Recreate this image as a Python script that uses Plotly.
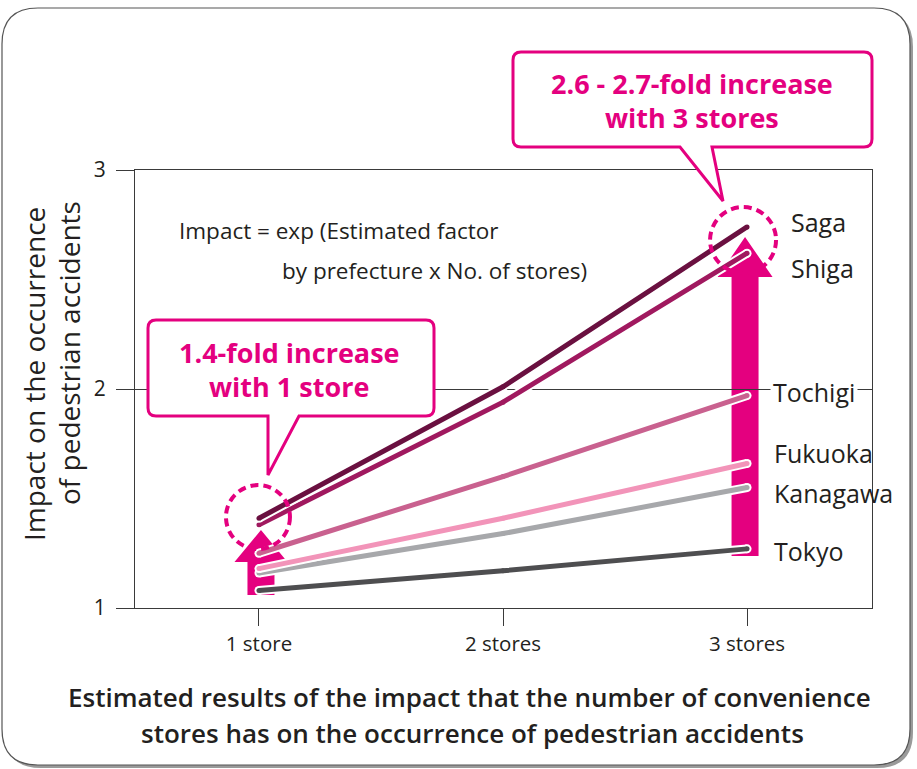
import plotly.graph_objects as go

# ---- data -------------------------------------------------------------
stores = [1, 2, 3]
store_labels = ["1 store", "2 stores", "3 stores"]

prefectures = ["Tokyo", "Kanagawa", "Fukuoka", "Tochigi", "Shiga", "Saga"]
impact = {
    "Tokyo":    [1.08, 1.17, 1.27],
    "Kanagawa": [1.16, 1.34, 1.55],
    "Fukuoka":  [1.18, 1.41, 1.66],
    "Tochigi":  [1.25, 1.60, 1.97],
    "Shiga":    [1.38, 1.94, 2.62],
    "Saga":     [1.41, 2.01, 2.74],
}
colors = {
    "Tokyo":    "#4e4e50",
    "Kanagawa": "#a7a8ab",
    "Fukuoka":  "#f294b9",
    "Tochigi":  "#c9618f",
    "Shiga":    "#a0195f",
    "Saga":     "#6a1040",
}
y_ticks = [1, 2, 3]

# ---- page geometry ----------------------------------------------------
W, H = 917, 769
L, R, T, B = 135, 872, 170, 608          # plot area in pixels
PW, PH = R - L, B - T

MAG = "#e4007f"
INK = "#231f20"
FONT = "Open Sans"


def fx(px):
    return (px - L) / PW


def fy(py):
    return (B - py) / PH


def rounded_box(x0, y0, x1, y1, r, pointer=None):
    """Rounded rectangle path (paper coords) with optional bottom pointer."""
    p = [f"M{fx(x0 + r)},{fy(y0)}", f"L{fx(x1 - r)},{fy(y0)}",
         f"Q{fx(x1)},{fy(y0)} {fx(x1)},{fy(y0 + r)}",
         f"L{fx(x1)},{fy(y1 - r)}",
         f"Q{fx(x1)},{fy(y1)} {fx(x1 - r)},{fy(y1)}"]
    if pointer:
        (bl, br, tx, ty) = pointer
        p += [f"L{fx(br)},{fy(y1)}", f"L{fx(tx)},{fy(ty)}", f"L{fx(bl)},{fy(y1)}"]
    p += [f"L{fx(x0 + r)},{fy(y1)}",
          f"Q{fx(x0)},{fy(y1)} {fx(x0)},{fy(y1 - r)}",
          f"L{fx(x0)},{fy(y0 + r)}",
          f"Q{fx(x0)},{fy(y0)} {fx(x0 + r)},{fy(y0)}", "Z"]
    return " ".join(p)


fig = go.Figure()

# lines with a white casing and rounded ends
for name in prefectures:
    fig.add_trace(go.Scatter(
        x=stores, y=impact[name], mode="lines+markers",
        line=dict(color="white", width=9),
        marker=dict(color="white", size=9, line=dict(width=0)),
        hoverinfo="skip", showlegend=False, cliponaxis=False))
    fig.add_trace(go.Scatter(
        x=stores, y=impact[name], mode="lines+markers", name=name,
        line=dict(color=colors[name], width=5),
        marker=dict(color=colors[name], size=5, line=dict(width=0)),
        showlegend=False, cliponaxis=False))

shapes = []

# outer frame with a soft shadow
shapes.append(dict(type="path", xref="paper", yref="paper", layer="below",
                   path=rounded_box(5, 11, 913, 768, 36),
                   fillcolor="#9a9a9a", line=dict(width=0)))
shapes.append(dict(type="path", xref="paper", yref="paper", layer="below",
                   path=rounded_box(2, 8, 910, 765, 36),
                   fillcolor="white", line=dict(color="#555555", width=1.2)))


def up_arrow(xa, ya, head_w, head_h, shaft_w, shaft_len, dx=0):
    hw, sw = head_w / 2, shaft_w / 2
    pts = [(dx, 0), (dx + hw, -head_h), (dx + sw, -head_h),
           (dx + sw, -shaft_len), (dx - sw, -shaft_len),
           (dx - sw, -head_h), (dx - hw, -head_h)]
    path = "M" + " L".join(f"{x},{y}" for x, y in pts) + " Z"
    return dict(type="path", xref="x", yref="y", layer="below",
                xsizemode="pixel", ysizemode="pixel", xanchor=xa, yanchor=ya,
                path=path, fillcolor=MAG, line=dict(width=0))


# magenta arrows showing the spread at 1 and 3 stores
shapes.append(up_arrow(1, 1.356, 53, 32, 27, 65, dx=2))
shapes.append(up_arrow(3, 2.694, 55, 40, 27, 319, dx=-2))

# dashed highlight circles
for (xa, ya, rad, dx) in [(1, 1.415, 32, -1), (3, 2.68, 33, -4)]:
    shapes.append(dict(type="circle", xref="x", yref="y", layer="above",
                       xsizemode="pixel", ysizemode="pixel",
                       xanchor=xa, yanchor=ya,
                       x0=dx - rad, x1=dx + rad, y0=-rad, y1=rad,
                       line=dict(color=MAG, width=4, dash="8px,5px")))

# callout boxes
shapes.append(dict(type="path", xref="paper", yref="paper", layer="above",
                   path=rounded_box(148, 320, 434, 416, 8, pointer=(268, 299, 268, 475)),
                   fillcolor="white", line=dict(color=MAG, width=3)))
shapes.append(dict(type="path", xref="paper", yref="paper", layer="above",
                   path=rounded_box(513, 52, 872, 147, 8, pointer=(680, 712, 723, 201)),
                   fillcolor="white", line=dict(color=MAG, width=3)))

ann = []


def text(px, py, s, size, color=INK, anchor="center", weight=400, angle=0, **kw):
    ann.append(dict(x=fx(px), y=fy(py), xref="paper", yref="paper", text=s,
                    showarrow=False, xanchor=anchor, yanchor="middle",
                    textangle=angle,
                    font=dict(family=FONT, size=size, color=color, weight=weight),
                    **kw))


# series labels
label_pos = {
    "Saga": (789, 222), "Shiga": (789, 268), "Tochigi": (770, 392),
    "Fukuoka": (772, 453), "Kanagawa": (772, 493), "Tokyo": (772, 551),
}
for name, (px, py) in label_pos.items():
    extra = dict(bgcolor="white", borderpad=2) if name == "Tochigi" else {}
    text(px, py, name, 25, anchor="left", **extra)

# formula note
text(177, 230, "Impact = exp (Estimated factor", 22.5, anchor="left")
text(280, 270, "by prefecture x No. of stores)", 22.5, anchor="left")

# callout texts
text(289, 352, "1.4-fold increase", 27, color=MAG, weight=700)
text(289, 386, "with 1 store", 27, color=MAG, weight=700)
text(692, 83, "2.6 - 2.7-fold increase", 27, color=MAG, weight=700)
text(692, 117, "with 3 stores", 27, color=MAG, weight=700)

# y-axis title
text(34, 374, "Impact on the occurrence", 28, angle=-90)
text(69, 353, "of pedestrian accidents", 28, angle=-90)

# caption
text(469, 697, "Estimated results of the impact that the number of convenience",
     26, weight=600)
text(472, 733, "stores has on the occurrence of pedestrian accidents", 26, weight=600)

fig.update_layout(
    width=W, height=H,
    margin=dict(l=L, r=W - R, t=T, b=H - B),
    paper_bgcolor="white", plot_bgcolor="rgba(0,0,0,0)",
    shapes=shapes, annotations=ann, showlegend=False,
    font=dict(family=FONT, color=INK),
    xaxis=dict(range=[0.492, 3.512], tickvals=stores, ticktext=store_labels,
               showgrid=False, zeroline=False, showline=True, mirror=True,
               linecolor="#3a3a3a", linewidth=1.2,
               ticks="outside", ticklen=17, tickwidth=1, tickcolor="#3a3a3a",
               ticklabelstandoff=0,
               tickfont=dict(family=FONT, size=20.5, color=INK), fixedrange=True),
    yaxis=dict(range=[1, 3], tickvals=y_ticks, showgrid=True,
               gridcolor="#3a3a3a", gridwidth=1, zeroline=False,
               showline=True, mirror=True, linecolor="#3a3a3a", linewidth=1.2,
               ticks="outside", ticklen=18, tickwidth=1, tickcolor="#3a3a3a",
               ticklabelstandoff=6,
               tickfont=dict(family=FONT, size=21, color=INK), fixedrange=True),
)

fig.write_html("out.html")
